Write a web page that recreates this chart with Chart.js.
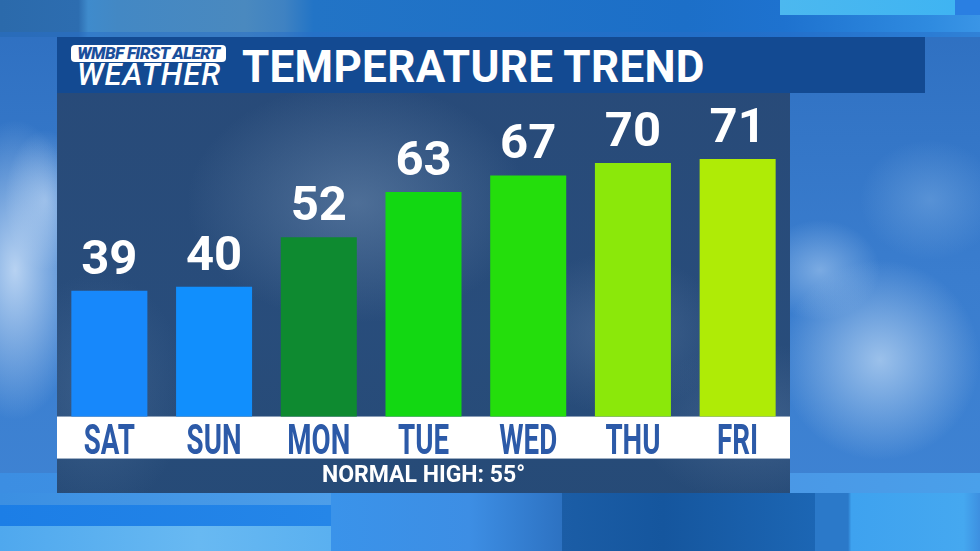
<!DOCTYPE html>
<html>
<head>
<meta charset="utf-8">
<script src="https://cdn.jsdelivr.net/npm/chart.js@4.4.1/dist/chart.umd.min.js"></script>
<style>
html,body{margin:0;padding:0;width:980px;height:551px;overflow:hidden;}
body{position:relative;font-family:Roboto,'Liberation Sans',sans-serif;
  background:
    radial-gradient(ellipse 70px 150px at 15px 270px, rgba(205,225,248,0.85), rgba(205,225,248,0) 100%),
    radial-gradient(ellipse 40px 70px at 45px 200px, rgba(190,215,245,0.6), rgba(190,215,245,0) 100%),
    radial-gradient(ellipse 100px 100px at 880px 360px, rgba(160,196,236,0.95), rgba(160,196,236,0) 100%),
    radial-gradient(ellipse 60px 50px at 820px 270px, rgba(150,190,235,0.7), rgba(150,190,235,0) 100%),
    radial-gradient(ellipse 70px 60px at 930px 200px, rgba(120,170,225,0.5), rgba(120,170,225,0) 100%),
    linear-gradient(180deg,#2e6fc0 0%,#3a7dce 50%,#3f84d4 100%);
}
.blk{position:absolute;}
#panel{left:57px;top:93px;width:733px;height:400px;
  background:
    radial-gradient(ellipse 170px 120px at 300px 110px, rgba(115,145,180,0.5), rgba(115,145,180,0) 100%),
    radial-gradient(ellipse 110px 80px at 560px 240px, rgba(105,135,172,0.4), rgba(105,135,172,0) 100%),
    radial-gradient(ellipse 90px 120px at 40px 300px, rgba(100,135,175,0.3), rgba(100,135,175,0) 100%),
    radial-gradient(ellipse 120px 80px at 700px 330px, rgba(100,130,170,0.35), rgba(100,130,170,0) 100%),
    linear-gradient(180deg, rgba(40,74,120,0.92) 0%, rgba(40,76,122,0.9) 60%, rgba(38,74,118,0.92) 100%),
    #2a5285;}
#chartwrap{left:57px;top:93px;width:733px;height:400px;}
#titlebar{left:57px;top:37px;width:868px;height:56px;background:#134a92;}
#logobox{left:71px;top:45px;width:155px;height:17px;background:#fff;border-radius:4px;
  color:#1b4f9c;font:italic 900 17px/17px Roboto,sans-serif;text-align:center;letter-spacing:-0.6px;white-space:nowrap;}
#logow{left:77px;top:59px;color:#fff;font:italic 500 31px/31px Roboto,sans-serif;letter-spacing:1px;white-space:nowrap;}
#title{left:242px;top:45px;color:#fff;font:bold 44px/44px Roboto,sans-serif;white-space:nowrap;letter-spacing:0.3px;}
</style>
</head>
<body>
<!-- top strip -->
<div class="blk" style="left:0;top:0;width:980px;height:37px;background:linear-gradient(90deg,#2b6aab 0%,#2d6db0 8%,#3f8bcc 9%,#4388c4 12%,#4a89bf 25%,#3f82c2 29%,#2274c6 32%,#1c6fc8 70%,#1e72cf 80%,#2f8be0 95%,#3a95e6 100%);"></div>
<div class="blk" style="left:780px;top:0;width:175px;height:15px;background:linear-gradient(90deg,#4cb8ef,#3fb4f2);"></div>
<div class="blk" style="left:955px;top:0;width:25px;height:15px;background:#2a7fe2;"></div>
<div class="blk" style="left:0;top:32px;width:980px;height:5px;background:rgba(40,110,200,0.5);"></div>
<!-- bottom strip -->
<div class="blk" style="left:0;top:473px;width:980px;height:20px;background:linear-gradient(90deg,#3c8ee2,#4a98e6 80%,#4aa0ea);"></div>
<div class="blk" style="left:0;top:493px;width:331px;height:12px;background:linear-gradient(90deg,#3b8fe2,#4d9ee9);"></div>
<div class="blk" style="left:0;top:505px;width:331px;height:21px;background:linear-gradient(90deg,#1c7ee6,#2586e8);"></div>
<div class="blk" style="left:0;top:526px;width:331px;height:25px;background:linear-gradient(90deg,#4fa8ee,#68b9f2 60%,#5ab0f0);"></div>
<div class="blk" style="left:331px;top:493px;width:231px;height:58px;background:linear-gradient(90deg,#3a93ea,#3d8ee4 60%,#2d72c2 100%);"></div>
<div class="blk" style="left:562px;top:493px;width:253px;height:58px;background:linear-gradient(90deg,#1b5da6,#15569e 40%,#1c66b4 100%);"></div>
<div class="blk" style="left:815px;top:493px;width:165px;height:58px;background:linear-gradient(90deg,#2b79c9 0%,#2b79c9 20%,#3ea2ef 22%,#45a8f0 90%,#3d8fe0 100%);"></div>
<div class="blk" id="panel"></div>
<div class="blk" id="titlebar"></div>
<div class="blk" id="logobox">WMBF FIRST ALERT</div>
<div class="blk" id="logow">WEATHER</div>
<div class="blk" id="title">TEMPERATURE TREND</div>
<div class="blk" id="chartwrap"><canvas id="c" width="733" height="400"></canvas></div>
<script>
// ---- data ----
const days = ['SAT', 'SUN', 'MON', 'TUE', 'WED', 'THU', 'FRI'];
const highs = [39, 40, 52, 63, 67, 70, 71];
const barColors = ['#1788fb', '#118ffd', '#0e8a30', '#12d812', '#24de0c', '#8be80a', '#afeb06'];
const normalHigh = 55;
const yMin = 8.5;
const yMax = 87;

const TICK_BAND = 42;

// white band behind the category axis
const stripPlugin = {
  id: 'strip',
  beforeDraw(chart) {
    const ctx = chart.ctx;
    const a = chart.chartArea;
    ctx.save();
    ctx.fillStyle = '#ffffff';
    ctx.fillRect(0, a.bottom, chart.width, TICK_BAND);
    ctx.restore();
  }
};

// condensed category labels, placed at the x scale's tick positions
const dayLabelPlugin = {
  id: 'dayLabels',
  afterDraw(chart) {
    const xs = chart.scales.x;
    const ctx = chart.ctx;
    const a = chart.chartArea;
    ctx.save();
    ctx.fillStyle = '#2c5aa8';
    ctx.font = 'bold 42px Roboto, sans-serif';
    ctx.textAlign = 'center';
    ctx.textBaseline = 'alphabetic';
    xs.ticks.forEach((t, i) => {
      const px = xs.getPixelForTick(i);
      ctx.save();
      ctx.translate(px, a.bottom + 37);
      ctx.scale(0.66, 1);
      ctx.fillText(xs.getLabelForValue(t.value), 0, 0);
      ctx.restore();
    });
    ctx.restore();
  }
};

// value labels above the bars
const valuePlugin = {
  id: 'values',
  afterDatasetsDraw(chart) {
    const ctx = chart.ctx;
    const meta = chart.getDatasetMeta(0);
    ctx.save();
    ctx.fillStyle = '#ffffff';
    ctx.font = 'bold 49px Roboto, sans-serif';
    ctx.textAlign = 'center';
    ctx.textBaseline = 'alphabetic';
    meta.data.forEach((bar, i) => {
      ctx.fillText(String(chart.data.datasets[0].data[i]), bar.x, bar.y - 17);
    });
    ctx.restore();
  }
};

new Chart(document.getElementById('c'), {
  type: 'bar',
  data: {
    labels: days,
    datasets: [{
      data: highs,
      backgroundColor: barColors,
      borderWidth: 0,
      barPercentage: 0.726,
      categoryPercentage: 1.0
    }]
  },
  options: {
    responsive: false,
    animation: false,
    devicePixelRatio: 1,
    layout: { padding: 0 },
    plugins: {
      legend: { display: false },
      tooltip: { enabled: false },
      title: { display: false }
    },
    scales: {
      x: {
        grid: { display: false, drawTicks: false },
        border: { display: false },
        ticks: { display: false },
        title: {
          display: true,
          text: 'NORMAL HIGH: ' + normalHigh + '°',
          color: '#ffffff',
          font: { family: 'Roboto, sans-serif', size: 23, weight: 'bold', lineHeight: 1.15 },
          padding: { top: 4 + TICK_BAND, bottom: 4 }
        }
      },
      y: { display: false, min: yMin, max: yMax }
    }
  },
  plugins: [stripPlugin, valuePlugin, dayLabelPlugin]
});
</script>
</body>
</html>
